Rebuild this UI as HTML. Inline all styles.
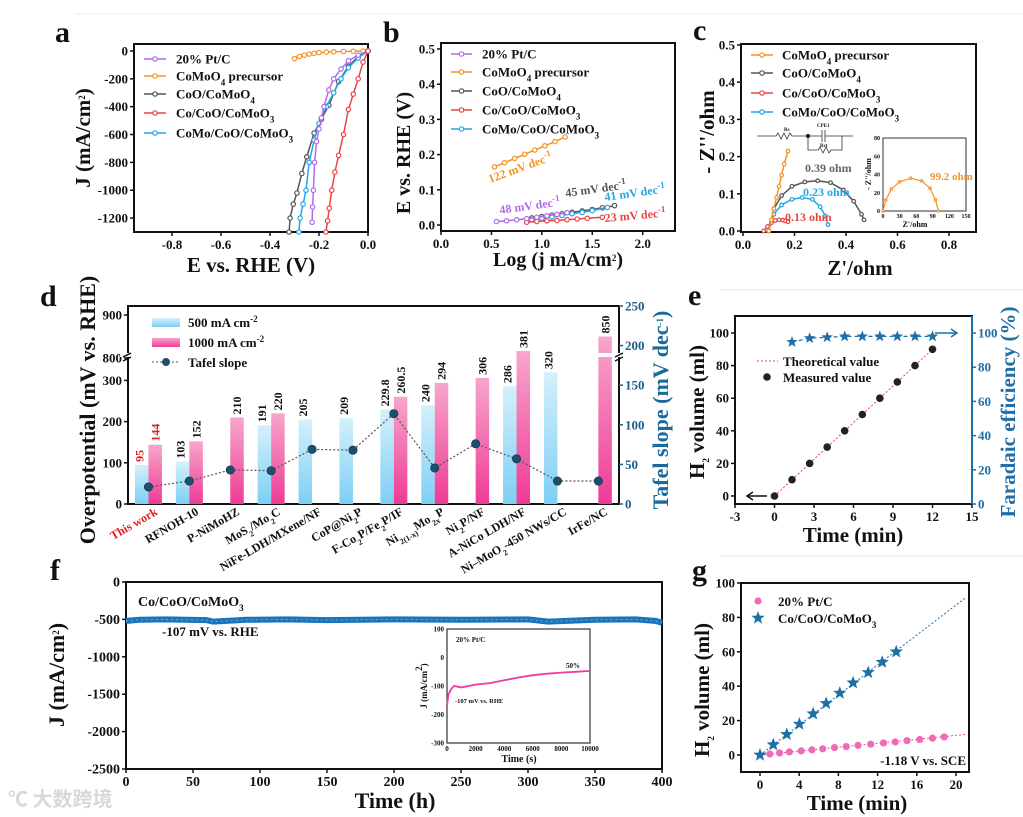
<!DOCTYPE html>
<html><head><meta charset="utf-8">
<style>
html,body{margin:0;padding:0;background:#fff;width:1023px;height:817px;overflow:hidden}
svg{display:block;font-family:"Liberation Serif","Noto Serif CJK SC",serif;font-weight:bold}
</style></head>
<body>
<svg id="fig" width="1023" height="817" viewBox="0 0 1023 817" xmlns="http://www.w3.org/2000/svg">
<defs>
<linearGradient id="gBlue" x1="0" y1="0" x2="0" y2="1"><stop offset="0" stop-color="#d4f0fc"/><stop offset="1" stop-color="#7dcff4"/></linearGradient>
<linearGradient id="gPink" x1="0" y1="0" x2="0" y2="1"><stop offset="0" stop-color="#f7a6cc"/><stop offset="1" stop-color="#ee3b95"/></linearGradient>
</defs>
</svg>
<script>
// ---------- data: panel a ----------
const aPtX=[0,-0.04,-0.08,-0.11,-0.14,-0.16,-0.18,-0.19,-0.2,-0.21,-0.218,-0.223,-0.226,-0.228];
const aPtY=[0,-30,-70,-130,-200,-280,-400,-480,-560,-650,-800,-1000,-1120,-1230];
const aPreX=[-0.3,-0.28,-0.26,-0.24,-0.22,-0.2,-0.17,-0.14,-0.1,-0.06,-0.02,0];
const aPreY=[-55,-40,-30,-22,-17,-12,-8,-6,-4,-2,-1,0];
const aCoOX=[0,-0.04,-0.08,-0.12,-0.16,-0.19,-0.22,-0.25,-0.27,-0.29,-0.305,-0.318,-0.322];
const aCoOY=[0,-40,-110,-220,-390,-490,-590,-760,-880,-1020,-1100,-1200,-1300];
const aCoMoX=[0,-0.04,-0.08,-0.11,-0.14,-0.17,-0.2,-0.22,-0.24,-0.253,-0.265,-0.277,-0.282];
const aCoMoY=[0,-50,-120,-200,-300,-400,-520,-640,-800,-1000,-1100,-1200,-1300];
const aRedX=[0,-0.02,-0.04,-0.06,-0.08,-0.1,-0.12,-0.135,-0.148,-0.158,-0.165,-0.172];
const aRedY=[0,-80,-200,-310,-420,-600,-750,-870,-1000,-1130,-1220,-1300];
// ---------- data: panel b ----------
const bPtX=[0.55,0.65,0.75,0.85,0.95,1.05,1.15,1.25];
const bPtY=[0.010,0.012,0.015,0.018,0.022,0.026,0.030,0.035];
const bPreX=[0.53,0.63,0.73,0.83,0.93,1.03,1.13,1.23];
const bPreY=[0.165,0.177,0.189,0.201,0.213,0.225,0.237,0.250];
const bCoOX=[0.9,1.0,1.1,1.2,1.3,1.4,1.5,1.6,1.72];
const bCoOY=[0.020,0.024,0.028,0.032,0.036,0.040,0.044,0.049,0.055];
const bRedX=[0.85,0.95,1.05,1.15,1.25,1.35,1.45,1.6];
const bRedY=[0.008,0.010,0.012,0.013,0.015,0.017,0.019,0.022];
const bBlueX=[0.9,1.0,1.1,1.2,1.3,1.4,1.5,1.65];
const bBlueY=[0.015,0.019,0.023,0.027,0.032,0.036,0.041,0.050];
// ---------- data: panel c ----------
const cPreX=[0.1,0.11,0.12,0.13,0.14,0.15,0.16,0.175];
const cPreY=[0,0.03,0.06,0.09,0.12,0.15,0.18,0.215];
const cCoOX=[0.1,0.12,0.15,0.19,0.24,0.29,0.34,0.39,0.43,0.46,0.47];
const cCoOY=[0,0.06,0.095,0.12,0.132,0.135,0.13,0.11,0.08,0.045,0.03];
const cRedX=[0.08,0.095,0.11,0.125,0.14,0.155,0.165,0.175];
const cRedY=[0,0.012,0.022,0.028,0.03,0.029,0.027,0.025];
const cBlueX=[0.1,0.12,0.15,0.19,0.23,0.27,0.3,0.32,0.33];
const cBlueY=[0,0.045,0.07,0.085,0.09,0.085,0.065,0.04,0.017];
const cInX=[0,5,15,30,50,70,85,95,100];
const cInY=[0,12,24,32,36,33,25,12,0];
// ---------- data: panel d ----------
const dCats=["This work","RFNOH-10","P-NiMoHZ","MoS<tspan baseline-shift='sub' font-size='8'>2</tspan>/Mo<tspan baseline-shift='sub' font-size='8'>2</tspan>C","NiFe-LDH/MXene/NF","CoP@Ni<tspan baseline-shift='sub' font-size='8'>2</tspan>P","F-Co<tspan baseline-shift='sub' font-size='8'>2</tspan>P/Fe<tspan baseline-shift='sub' font-size='8'>2</tspan>P/IF","Ni<tspan baseline-shift='sub' font-size='8'>2(1-x)</tspan>Mo<tspan baseline-shift='sub' font-size='8'>2x</tspan>P","Ni<tspan baseline-shift='sub' font-size='8'>2</tspan>P/NF","A-NiCo LDH/NF","Ni–MoO<tspan baseline-shift='sub' font-size='8'>2</tspan>-450 NWs/CC","IrFe/NC"];
const d500=[95,103,null,191,205,209,229.8,240,null,286,320,null];
const d1000=[144,152,210,220,null,null,260.5,294,306,381,null,850];
const dTafel=[21.5,29,43,42,69,68,114,45.5,76,57,29,29];
// ---------- data: panel e ----------
const eT=[0,1.33,2.67,4,5.33,6.67,8,9.33,10.67,12];
const eV=[0,10,20,30,40,50,60,70,80,90];
const eFT=[1.33,2.67,4,5.33,6.67,8,9.33,10.67,12];
const eFE=[94.7,97,97.5,98,98,98,98,98,98];
const eFitT=[0,12];
const eFitV=[0,90];
// ---------- data: panel f ----------
const fT=[0,10,30,60,65,90,120,150,200,250,300,315,350,380,395,400];
const fJ=[-520,-505,-500,-510,-530,-505,-500,-510,-500,-505,-500,-530,-505,-500,-520,-545];
const fiT=[0,100,300,500,1000,2000,3000,4000,5000,6000,7000,8000,9000,10000];
const fiJ=[-170,-130,-110,-100,-105,-95,-90,-80,-70,-62,-57,-53,-50,-47];
// ---------- data: panel g ----------
const gPtT=[1,2,3,4.2,5.3,6.4,7.6,8.8,10,11.3,12.6,13.8,15,16.3,17.6,18.8];
const gPtV=[0.6,1.2,1.8,2.4,3,3.6,4.3,4.9,5.6,6.3,7,7.6,8.3,9,9.8,10.5];
const gCoT=[0,1.36,2.73,4.02,5.42,6.75,8.14,9.5,11.04,12.47,13.9];
const gCoV=[0,6,12,18,24,30,36,42,48,54,60];
const gFitT=[0,21];
const gCoFit=[0,91.5];
const gPtFit=[0,12];

const NS='http://www.w3.org/2000/svg';
const svg=document.getElementById('fig');
function el(tag,attrs,name,parent){
  const e=document.createElementNS(NS,tag);
  for(const k in attrs) e.setAttribute(k,attrs[k]);
  
  
  (parent||svg).appendChild(e);return e;}
function txt(x,y,s,name,o){o=o||{};
  const a={x:x,y:y,'font-size':o.fs||13,'text-anchor':o.anchor||'start',fill:o.fill||'#111'};
  if(o.rot!==undefined)a.transform='rotate('+o.rot+' '+x+' '+y+')';
  const t=el('text',a,name);t.innerHTML=s;return t;}
function lin(d0,d1,r0,r1){return v=>r0+(v-d0)*(r1-r0)/(d1-d0);}
function frame(x0,y0,x1,y1,name){el('rect',{x:x0,y:y0,width:x1-x0,height:y1-y0,fill:'none',stroke:'#111','stroke-width':2},name);}
function xTicks(vals,sx,y,name,o){o=o||{};vals.forEach(v=>{
  el('line',{x1:sx(v),y1:y,x2:sx(v),y2:y+4,stroke:'#111','stroke-width':1.5},name+'-tick');
  txt(sx(v),y+17,o.fmt?o.fmt(v):String(v),name+'-label',{anchor:'middle',fs:o.fs||13});});}
function yTicks(vals,sy,x,name,o){o=o||{};const right=o.right;vals.forEach(v=>{
  el('line',{x1:x,y1:sy(v),x2:right?x+4:x-4,y2:sy(v),stroke:o.col||'#111','stroke-width':1.5},name+'-tick');
  txt(right?x+6:x-6,sy(v)+4.5,o.fmt?o.fmt(v):String(v),name+'-label',{anchor:right?'start':'end',fs:o.fs||13,fill:o.col||'#111'});});}
function series(xs,ys,sx,sy,col,name,o){o=o||{};
  const d=xs.map((v,i)=>(i?'L':'M')+sx(v).toFixed(1)+' '+sy(ys[i]).toFixed(1)).join(' ');
  el('path',{d:d,fill:'none',stroke:col,'stroke-width':o.w||1.5,'stroke-dasharray':o.dash||'none'},name+'-line');
  if(o.r!==0)xs.forEach((v,i)=>el('circle',{cx:sx(v),cy:sy(ys[i]),r:o.r||2.2,fill:o.mf||'#fff',stroke:col,'stroke-width':1.2},name+'-marker'));}
function starPath(cx,cy,R){let p='';for(let i=0;i<10;i++){const r=i%2?R*0.42:R;const a=-Math.PI/2+i*Math.PI/5;p+=(i?'L':'M')+(cx+r*Math.cos(a)).toFixed(1)+' '+(cy+r*Math.sin(a)).toFixed(1);}return p+'Z';}
const sub=s=>"<tspan baseline-shift='sub' font-size='9'>"+s+"</tspan>";
const sup=s=>"<tspan baseline-shift='super' font-size='9'>"+s+"</tspan>";
const C={pt:'#b46ae8',pre:'#f39422',coo:'#555',red:'#e84545',blue:'#22a6e6'};
function legendLine(x1,x2,y,col,label,name,tx){el('line',{x1:x1,y1:y,x2:x2,y2:y,stroke:col,'stroke-width':1.5},name+'-line');
  el('circle',{cx:(x1+x2)/2,cy:y,r:2.2,fill:'#fff',stroke:col,'stroke-width':1.2},name+'-marker');
  txt(tx,y+4.5,label,name,{fs:13});}

el('line',{x1:75,y1:14,x2:1023,y2:14,stroke:'#eee'},'separator-top');
el('line',{x1:720,y1:290,x2:1023,y2:290,stroke:'#e4e4e4'},'separator-e');
el('line',{x1:720,y1:556,x2:1023,y2:556,stroke:'#e4e4e4'},'separator-g');

// ===== panel a =====
txt(55,42,'a','panel-label-a',{fs:30});
{const sx=lin(-0.955,0,134,368),sy=lin(-1300,50,232,44);
frame(134,44,368,232,'plot-area-a');
xTicks([-0.8,-0.6,-0.4,-0.2,0],sx,232,'x-axis-a',{fmt:v=>v.toFixed(1)});
yTicks([0,-200,-400,-600,-800,-1000,-1200],sy,134,'y-axis-a');
series(aPreX,aPreY,sx,sy,C.pre,'series-a-precursor');
series(aCoOX,aCoOY,sx,sy,C.coo,'series-a-coo');
series(aCoMoX,aCoMoY,sx,sy,C.blue,'series-a-como');
series(aPtX,aPtY,sx,sy,C.pt,'series-a-ptc');
series(aRedX,aRedY,sx,sy,C.red,'series-a-co');
legendLine(144,166,59,C.pt,'20% Pt/C','legend-a-ptc',176);
legendLine(144,166,76,C.pre,'CoMoO'+sub(4)+' precursor','legend-a-precursor',176);
legendLine(144,166,94,C.coo,'CoO/CoMoO'+sub(4),'legend-a-coo',176);
legendLine(144,166,113,C.red,'Co/CoO/CoMoO'+sub(3),'legend-a-co',176);
legendLine(144,166,133,C.blue,'CoMo/CoO/CoMoO'+sub(3),'legend-a-como',176);
txt(251,272,'E vs. RHE (V)','x-axis-title-a',{fs:21,anchor:'middle'});
txt(90,138,'J (mA/cm'+sup(2)+')','y-axis-title-a',{fs:21,anchor:'middle',rot:-90});}

// ===== panel b =====
txt(383,42,'b','panel-label-b',{fs:30});
{const sx=lin(0,2.32,441,675),sy=lin(-0.017,0.517,231,43);
frame(441,43,675,231,'plot-area-b');
xTicks([0,0.5,1,1.5,2],sx,231,'x-axis-b',{fmt:v=>v.toFixed(1)});
yTicks([0,0.1,0.2,0.3,0.4,0.5],sy,441,'y-axis-b',{fmt:v=>v.toFixed(1)});
series(bPreX,bPreY,sx,sy,C.pre,'series-b-precursor');
series(bCoOX,bCoOY,sx,sy,C.coo,'series-b-coo');
series(bBlueX,bBlueY,sx,sy,C.blue,'series-b-como');
series(bRedX,bRedY,sx,sy,C.red,'series-b-co');
series(bPtX,bPtY,sx,sy,C.pt,'series-b-ptc');
legendLine(451,472,54,C.pt,'20% Pt/C','legend-b-ptc',482);
legendLine(451,472,72,C.pre,'CoMoO'+sub(4)+' precursor','legend-b-precursor',482);
legendLine(451,472,91,C.coo,'CoO/CoMoO'+sub(4),'legend-b-coo',482);
legendLine(451,472,110,C.red,'Co/CoO/CoMoO'+sub(3),'legend-b-co',482);
legendLine(451,472,129,C.blue,'CoMo/CoO/CoMoO'+sub(3),'legend-b-como',482);
txt(490,183,'122 mV dec'+sup('-1'),'tafel-label-precursor',{fs:12,fill:C.pre,rot:-20});
txt(500,214,'48 mV dec'+sup('-1'),'tafel-label-ptc',{fs:12,fill:C.pt,rot:-8});
txt(566,197,'45 mV dec'+sup('-1'),'tafel-label-coo',{fs:12,fill:C.coo,rot:-8});
txt(605,201,'41 mV dec'+sup('-1'),'tafel-label-como',{fs:12,fill:C.blue,rot:-8});
txt(605,222,'23 mV dec'+sup('-1'),'tafel-label-co',{fs:12,fill:C.red,rot:-5});
txt(558,266,'Log (j mA/cm'+sup(2)+')','x-axis-title-b',{fs:20,anchor:'middle'});
txt(410,153,'E vs. RHE (V)','y-axis-title-b',{fs:20,anchor:'middle',rot:-90});}

// ===== panel c =====
txt(693,40,'c','panel-label-c',{fs:30});
{const sx=v=>743+v*257.5,sy=v=>231-v*372;
frame(741,44,976,232,'plot-area-c');
xTicks([0,0.2,0.4,0.6,0.8],sx,232,'x-axis-c',{fmt:v=>v.toFixed(1)});
yTicks([0,0.1,0.2,0.3,0.4,0.5],sy,741,'y-axis-c',{fmt:v=>v.toFixed(1)});
series(cCoOX,cCoOY,sx,sy,C.coo,'series-c-coo',{r:1.8});
series(cBlueX,cBlueY,sx,sy,C.blue,'series-c-como',{r:1.8});
series(cRedX,cRedY,sx,sy,C.red,'series-c-co',{r:1.8});
series(cPreX,cPreY,sx,sy,C.pre,'series-c-precursor',{r:1.8});
legendLine(751,773,55,C.pre,'CoMoO'+sub(4)+' precursor','legend-c-precursor',782);
legendLine(751,773,73,C.coo,'CoO/CoMoO'+sub(4),'legend-c-coo',782);
legendLine(751,773,93,C.red,'Co/CoO/CoMoO'+sub(3),'legend-c-co',782);
legendLine(751,773,112,C.blue,'CoMo/CoO/CoMoO'+sub(3),'legend-c-como',782);
txt(805,172,'0.39 ohm','label-c-coo',{fs:12,fill:'#666'});
txt(803,196,'0.23 ohm','label-c-como',{fs:12,fill:C.blue});
txt(785,221,'0.13 ohm','label-c-co',{fs:12,fill:C.red});
el('path',{d:'M757 136 H776 l2 -3 l3 6 l3 -6 l3 6 l3 -6 l2 3 H808 M808 136 H822 M822 130 v12 M825 130 v12 M825 136 H853 M808 136 V150 H818 l2 -3 l3 6 l3 -6 l3 6 l2 -3 H842 V136',fill:'none',stroke:'#333','stroke-width':0.8},'equivalent-circuit');
el('circle',{cx:808,cy:136,r:2,fill:'#111'},'circuit-node');
txt(784,131,'Rs','circuit-label-rs',{fs:5});txt(817,127,'CPE1','circuit-label-cpe',{fs:5});txt(820,147,'Rct','circuit-label-rct',{fs:5});
const ix=lin(0,150,883,966),iy=lin(0,80,211,138);
el('rect',{x:883,y:138,width:83,height:73,fill:'#fff',stroke:'#333','stroke-width':1},'inset-c-frame');
[0,30,60,90,120,150].forEach(v=>txt(ix(v),218,String(v),'inset-c-x-label',{fs:6,anchor:'middle'}));
[0,20,40,60,80].forEach(v=>txt(880,iy(v)+2,String(v),'inset-c-y-label',{fs:6,anchor:'end'}));
series(cInX,cInY,ix,iy,C.pre,'series-c-inset',{r:1.2,w:1.2});
txt(930,180,'99.2 ohm','label-c-inset',{fs:11,fill:C.pre});
txt(915,227,"Z'/ohm",'inset-c-x-title',{fs:8,anchor:'middle'});
txt(871,174,"- Z''/ohm",'inset-c-y-title',{fs:8,anchor:'middle',rot:-90});
txt(860,275,"Z'/ohm",'x-axis-title-c',{fs:21,anchor:'middle'});
txt(714,132,"- Z''/ohm",'y-axis-title-c',{fs:21,anchor:'middle',rot:-90});}

// ===== panel d =====
txt(40,306,'d','panel-label-d',{fs:30});
{const bw=40.9, cx=i=>128+bw*(i+0.5);
const yL=v=>504-v*0.412, yU=v=>358-(v-800)*0.43;
const yv=v=>v<=360?yL(v):(v<800?351:yU(v));
frame(128,306,619,504,'plot-area-d');
yTicks([0,100,200,300],yL,128,'y-axis-d');
yTicks([800,900],yU,128,'y-axis-d-upper');
const yR=v=>504-v*0.792;
yTicks([0,50,100,150,200,250],yR,619,'y-axis-d-right',{right:true,col:'#1a5f8a'});
d500.forEach((v,i)=>{if(v===null)return;const y=yv(v);
  el('rect',{x:cx(i)-13.5,y:y,width:13.5,height:504-y,fill:'url(#gBlue)'},'bar-500-'+i);
  txt(cx(i)-5,y-3,String(v),'bar-500-value',{fs:12,rot:-90,fill:i===0?'#e02020':'#111'});});
d1000.forEach((v,i)=>{if(v===null)return;const y=yv(v);
  el('rect',{x:cx(i),y:y,width:13.5,height:504-y,fill:'url(#gPink)'},'bar-1000-'+i);
  if(v>=800) el('rect',{x:cx(i)-1,y:353,width:15.5,height:4,fill:'#fff'},'bar-break-gap');
  txt(cx(i)+11,y-3,String(v),'bar-1000-value',{fs:12,rot:-90,fill:i===0?'#e02020':'#111'});});
el('rect',{x:120,y:353,width:12,height:4,fill:'#fff'},'axis-break-gap-left');
el('rect',{x:614,y:353,width:10,height:4,fill:'#fff'},'axis-break-gap-right');
el('path',{d:'M123 357 l8 -4 M123 361 l8 -4 M615 357 l8 -4 M615 361 l8 -4',stroke:'#111','stroke-width':1.5},'axis-break-marks');
const tp=dTafel.map((v,i)=>(i?'L':'M')+cx(i).toFixed(1)+' '+yR(v).toFixed(1)).join(' ');
el('path',{d:tp,fill:'none',stroke:'#555','stroke-width':1.2,'stroke-dasharray':'2 2'},'tafel-slope-line');
dTafel.forEach((v,i)=>el('circle',{cx:cx(i),cy:yR(v),r:4.2,fill:'#1d4f6e',stroke:'#0d2f45','stroke-width':0.6},'tafel-slope-point'));
dCats.forEach((s,i)=>txt(cx(i)+10,514,s,'category-label',{fs:12,anchor:'end',rot:-30,fill:i===0?'#e02020':'#111'}));
el('rect',{x:152,y:318,width:28,height:9,fill:'url(#gBlue)'},'legend-d-500-swatch');
txt(188,327,'500 mA cm'+sup('-2'),'legend-d-500',{fs:13});
el('rect',{x:152,y:338,width:28,height:9,fill:'url(#gPink)'},'legend-d-1000-swatch');
txt(188,347,'1000 mA cm'+sup('-2'),'legend-d-1000',{fs:13});
el('line',{x1:152,y1:362,x2:180,y2:362,stroke:'#555','stroke-dasharray':'2 2'},'legend-d-tafel-line');
el('circle',{cx:166,cy:362,r:4,fill:'#1d4f6e'},'legend-d-tafel-marker');
txt(188,367,'Tafel slope','legend-d-tafel',{fs:13});
txt(95,410,'Overpotential (mV vs. RHE)','y-axis-title-d',{fs:22,anchor:'middle',rot:-90});
txt(668,410,'Tafel slope (mV dec'+sup('-1')+')','y-axis-title-d-right',{fs:22,anchor:'middle',rot:-90,fill:'#1a6a9a'});}

// ===== panel e =====
txt(688,305,'e','panel-label-e',{fs:30});
{const sx=lin(-3,15,735,972),sy=lin(0,100,496,333),sr=lin(0,100,504,333);
frame(735,316,972,504,'plot-area-e');
xTicks([-3,0,3,6,9,12,15],sx,504,'x-axis-e');
yTicks([0,20,40,60,80,100],sy,735,'y-axis-e');
el('line',{x1:972,y1:316,x2:972,y2:504,stroke:'#1f6fa8','stroke-width':2},'y-axis-e-right-line');
yTicks([0,20,40,60,80,100],sr,972,'y-axis-e-right',{right:true,col:'#1f6fa8'});
series(eFitT,eFitV,sx,sy,'#e84545','series-e-theoretical',{r:0,dash:'2 2',w:1});
eT.forEach((t,i)=>el('circle',{cx:sx(t),cy:sy(eV[i]),r:3.8,fill:'#222'},'series-e-measured-point'));
const fp=eFT.map((t,i)=>(i?'L':'M')+sx(t).toFixed(1)+' '+sr(eFE[i]).toFixed(1)).join(' ');
el('path',{d:fp,fill:'none',stroke:'#1f6fa8','stroke-width':1.2,'stroke-dasharray':'4 3'},'series-e-faradaic-line');
eFT.forEach((t,i)=>el('path',{d:starPath(sx(t),sr(eFE[i]),6),fill:'#1f6fa8'},'series-e-faradaic-star'));
el('path',{d:'M767 496 H747 M753 492 L747 496 L753 500',fill:'none',stroke:'#111','stroke-width':1.5},'arrow-left-axis');
el('path',{d:'M935 333 H957 M951 329 L957 333 L951 337',fill:'none',stroke:'#1f6fa8','stroke-width':1.5},'arrow-right-axis');
el('line',{x1:757,y1:361,x2:778,y2:361,stroke:'#e84545','stroke-dasharray':'2 2'},'legend-e-theoretical-line');
txt(783,366,'Theoretical value','legend-e-theoretical',{fs:13});
el('circle',{cx:767,cy:377,r:3.8,fill:'#222'},'legend-e-measured-marker');
txt(783,382,'Measured value','legend-e-measured',{fs:13});
txt(853,542,'Time (min)','x-axis-title-e',{fs:21,anchor:'middle'});
txt(704,412,'H'+sub(2)+' volume (ml)','y-axis-title-e',{fs:21,anchor:'middle',rot:-90});
txt(1015,412,'Faradaic efficiency (%)','y-axis-title-e-right',{fs:21,anchor:'middle',rot:-90,fill:'#1f6fa8'});}

// ===== panel f =====
txt(50,580,'f','panel-label-f',{fs:30});
{const sx=v=>126+v*1.34,sy=v=>582-v*0.0748;
frame(126,582,662,769,'plot-area-f');
xTicks([0,50,100,150,200,250,300,350,400],sx,769,'x-axis-f',{fs:14});
yTicks([0,-500,-1000,-1500,-2000,-2500],sy,126,'y-axis-f',{fs:14});
series(fT,fJ,sx,sy,'#1a74b8','series-f-stability',{r:0,w:6});
series(fT,fJ,sx,sy,'#6aaee0','series-f-stability-highlight',{r:0,w:1,dash:'2 3'});
txt(138,606,'Co/CoO/CoMoO'+sub(3),'label-f-sample',{fs:14});
txt(162,636,'-107 mV vs. RHE','label-f-potential',{fs:13});
const ix=lin(0,10000,447,590),iy=lin(-300,100,743,629);
el('rect',{x:447,y:629,width:143,height:114,fill:'#fff',stroke:'#333','stroke-width':1.2},'inset-f-frame');
[0,2000,4000,6000,8000,10000].forEach(v=>txt(ix(v),751,String(v),'inset-f-x-label',{fs:7,anchor:'middle'}));
[100,0,-100,-200,-300].forEach(v=>txt(444,iy(v)+2.5,String(v),'inset-f-y-label',{fs:7,anchor:'end'}));
series(fiT,fiJ,ix,iy,'#ee3ba0','series-f-inset-ptc',{r:0,w:1.8});
txt(456,642,'20% Pt/C','label-f-inset-ptc',{fs:7});
txt(566,668,'50%','label-f-inset-50',{fs:7});
txt(455,703,'-107 mV vs. RHE','label-f-inset-potential',{fs:6.5});
txt(519,762,'Time (s)','inset-f-x-title',{fs:10,anchor:'middle'});
txt(427,686,'J (mA/cm'+sup(2)+')','inset-f-y-title',{fs:9,anchor:'middle',rot:-90});
txt(395,808,'Time (h)','x-axis-title-f',{fs:22,anchor:'middle'});
txt(64,675,'J (mA/cm'+sup(2)+')','y-axis-title-f',{fs:22,anchor:'middle',rot:-90});}

// ===== panel g =====
txt(692,580,'g','panel-label-g',{fs:30});
{const sx=lin(0,20,760,956),sy=lin(0,100,755,583);
frame(741,583,969,772,'plot-area-g');
xTicks([0,4,8,12,16,20],sx,772,'x-axis-g');
yTicks([0,20,40,60,80,100],sy,741,'y-axis-g');
series(gFitT,gCoFit,sx,sy,'#1f6fa8','series-g-co-fit',{r:0,dash:'2 2',w:1});
series(gFitT,gPtFit,sx,sy,'#ee4aa6','series-g-ptc-fit',{r:0,dash:'2 2',w:1});
gPtT.forEach((t,i)=>el('circle',{cx:sx(t),cy:sy(gPtV[i]),r:3.6,fill:'#f06ab8'},'series-g-ptc-point'));
gCoT.forEach((t,i)=>el('path',{d:starPath(sx(t),sy(gCoV[i]),7),fill:'#1f6fa8'},'series-g-co-star'));
el('circle',{cx:758,cy:601,r:3.6,fill:'#f06ab8'},'legend-g-ptc-marker');
txt(778,606,'20% Pt/C','legend-g-ptc',{fs:13});
el('path',{d:starPath(758,618,7),fill:'#1f6fa8'},'legend-g-co-marker');
txt(778,623,'Co/CoO/CoMoO'+sub(3),'legend-g-co',{fs:13});
txt(966,765,'-1.18 V vs. SCE','label-g-potential',{fs:13,anchor:'end'});
txt(857,810,'Time (min)','x-axis-title-g',{fs:21,anchor:'middle'});
txt(709,690,'H'+sub(2)+' volume (ml)','y-axis-title-g',{fs:21,anchor:'middle',rot:-90});}

const wm=txt(8,806,'℃ 大数跨境','watermark',{fs:20,fill:'#d8d8d8'});
wm.setAttribute('font-family','"Noto Sans CJK SC", sans-serif');
</script>
</body></html>
